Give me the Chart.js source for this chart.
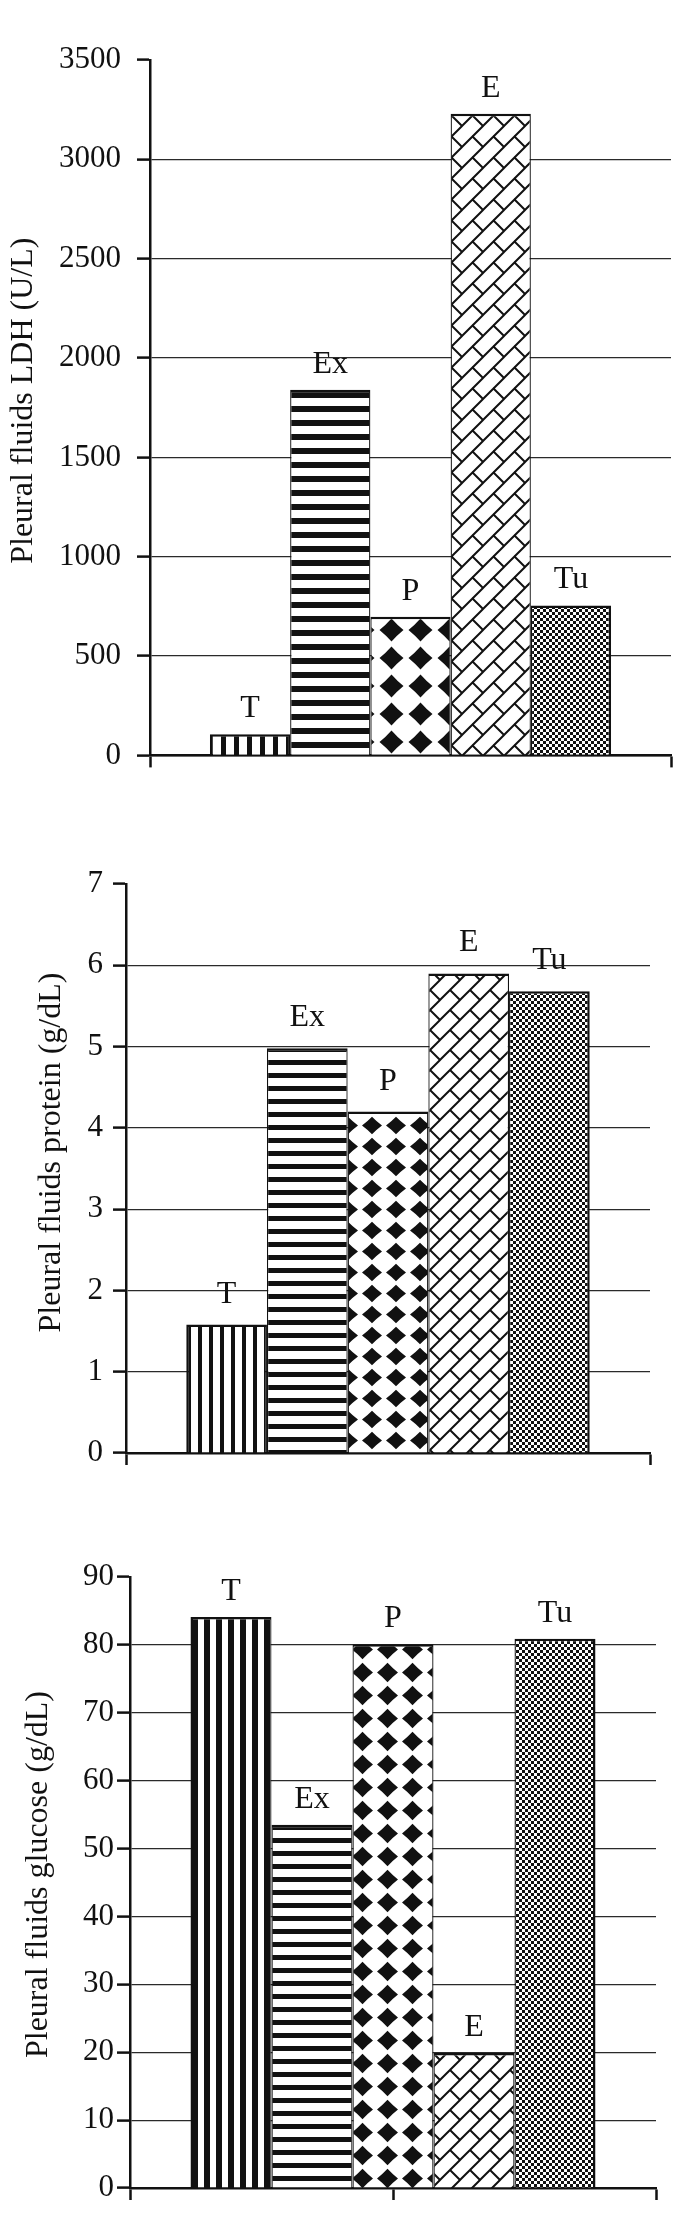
<!DOCTYPE html>
<html><head><meta charset="utf-8">
<script src="https://cdn.jsdelivr.net/npm/chart.js@4.4.1/dist/chart.umd.min.js"></script>
<style>
html,body{margin:0;padding:0;background:#fff;}
body{width:687px;height:2217px;position:relative;overflow:hidden;}
.box{position:absolute;left:0;width:687px;}
canvas{display:block;}
</style></head><body>
<div class="box" style="top:0;height:790px"><canvas id="c1" width="687" height="790"></canvas></div>
<div class="box" style="top:800px;height:690px"><canvas id="c2" width="687" height="690"></canvas></div>
<div class="box" style="top:1500px;height:717px"><canvas id="c3" width="687" height="717"></canvas></div>
<script>
// ---------- data ----------
const categories = ['T', 'Ex', 'P', 'E', 'Tu'];
const ldhValues = [107, 1840, 698, 3230, 755];
const proteinValues = [1.58, 4.98, 4.2, 5.9, 5.68];
const glucoseValues = [84.1, 53.5, 80.1, 19.9, 80.9];
const ldhTicks = [0, 500, 1000, 1500, 2000, 2500, 3000, 3500];
const proteinTicks = [0, 1, 2, 3, 4, 5, 6, 7];
const glucoseTicks = [0, 10, 20, 30, 40, 50, 60, 70, 80, 90];
const ldhTitle = 'Pleural fluids LDH (U/L)';
const proteinTitle = 'Pleural fluids protein (g/dL)';
const glucoseTitle = 'Pleural fluids glucose (g/dL)';

// ---------- styling ----------
const FONT = "'Liberation Serif', 'Times New Roman', Times, serif";
const INK = '#111';

function tile(w, h, draw) {
  const c = document.createElement('canvas');
  c.width = w; c.height = h;
  const g = c.getContext('2d');
  g.fillStyle = '#fff'; g.fillRect(0, 0, w, h);
  g.fillStyle = INK; g.strokeStyle = INK;
  draw(g, w, h);
  return g.createPattern(c, 'repeat');
}
const vStripes = (p, b) => tile(p, 4, (g, w, h) => g.fillRect(0, 0, b, h));
const hStripes = (p, b) => tile(4, p, (g, w, h) => g.fillRect(0, 0, w, b));
const diamonds = (sx, sy, r) => tile(sx, sy, (g, w, h) => {
  const cx = w / 2, cy = h / 2, k = 0.46, ry = r * sy / sx;
  g.beginPath();
  g.moveTo(cx, cy - ry);
  g.quadraticCurveTo(cx + r * k, cy - ry * k, cx + r, cy);
  g.quadraticCurveTo(cx + r * k, cy + ry * k, cx, cy + ry);
  g.quadraticCurveTo(cx - r * k, cy + ry * k, cx - r, cy);
  g.quadraticCurveTo(cx - r * k, cy - ry * k, cx, cy - ry);
  g.fill();
});
const brick = (s, lw) => tile(s, s, (g, w, h) => {
  g.lineWidth = lw; g.lineCap = 'square';
  g.beginPath();
  g.moveTo(-2, h + 2); g.lineTo(w + 2, -2);
  g.moveTo(-3, 3); g.lineTo(3, -3);
  g.moveTo(w - 3, h + 3); g.lineTo(w + 3, h - 3);
  g.moveTo(w / 2, h / 2); g.lineTo(w, h);
  g.stroke();
});
const checker = (c) => tile(2 * c, 2 * c, (g) => { g.fillRect(0, 0, c, c); g.fillRect(c, c, c, c); });

function barLabels(offset) {
  return {
    id: 'barLabels',
    afterDatasetsDraw(chart) {
      const ctx = chart.ctx;
      ctx.save();
      ctx.font = '32px ' + FONT;
      ctx.fillStyle = INK;
      ctx.textAlign = 'center';
      ctx.textBaseline = 'alphabetic';
      chart.data.datasets.forEach((ds, i) => {
        const el = chart.getDatasetMeta(i).data[0];
        if (el) ctx.fillText(ds.label, el.x, el.y - offset);
      });
      ctx.restore();
    }
  };
}

function yTitle(text, x, shift) {
  return {
    id: 'yTitle',
    afterDraw(chart) {
      const a = chart.chartArea, ctx = chart.ctx;
      ctx.save();
      ctx.translate(x, (a.top + a.bottom) / 2 + shift);
      ctx.rotate(-Math.PI / 2);
      ctx.font = '32px ' + FONT;
      ctx.fillStyle = INK;
      ctx.textAlign = 'center';
      ctx.textBaseline = 'middle';
      ctx.fillText(text, 0, 0);
      ctx.restore();
    }
  };
}

function makeChart(id, values, ticks, title, patterns, L) {
  const n = values.length;
  const maxV = ticks[ticks.length - 1];
  const datasets = categories.map((cat, i) => ({
    label: cat,
    data: [values[i]],
    xAxisID: 'x',
    yAxisID: 'y',
    backgroundColor: patterns[i],
    borderColor: INK,
    borderWidth: { top: 2.5, bottom: 0, left: i === 0 ? 2.5 : 1.3, right: i === n - 1 ? 2.5 : 1.3 },
    borderSkipped: 'start',
    categoryPercentage: 0.77,
    barPercentage: 1.0
  }));
  const xTickVals = L.xTicks;
  return new Chart(document.getElementById(id), {
    type: 'bar',
    data: { labels: [''], datasets },
    options: {
      responsive: false,
      animation: false,
      events: [],
      layout: { padding: { top: L.top, right: L.right, left: 0, bottom: 0 } },
      plugins: { legend: { display: false }, tooltip: { enabled: false } },
      scales: {
        x: { type: 'category', display: false },
        xa: {
          type: 'linear', position: 'bottom', offset: false,
          min: xTickVals[0], max: xTickVals[xTickVals.length - 1],
          afterBuildTicks: s => { s.ticks = xTickVals.map(v => ({ value: v })); },
          ticks: { display: false },
          grid: { offset: false, drawOnChartArea: false, drawTicks: true, tickLength: 12, tickColor: INK, tickWidth: 2.5 },
          border: { display: true, color: INK, width: 2.5 },
          afterFit: s => { s.height = L.xh; }
        },
        y: {
          type: 'linear', position: 'left',
          min: ticks[0], max: maxV,
          afterBuildTicks: s => { s.ticks = ticks.map(v => ({ value: v })); },
          ticks: { color: INK, padding: L.tickPad, font: { family: FONT, size: 31 }, callback: v => String(v) },
          grid: {
            color: c => (c.tick && c.tick.value === maxV) ? 'rgba(0,0,0,0)' : '#2a2a2a',
            lineWidth: 1.2, drawTicks: true, tickLength: 13, tickColor: INK, tickWidth: 2.5
          },
          border: { display: true, color: INK, width: 2.5 },
          title: { display: false },
          afterFit: s => { s.width = L.yw; }
        }
      }
    },
    plugins: [barLabels(L.labelOff), yTitle(title, L.titleX, L.titleShift)]
  });
}

makeChart('c1', ldhValues, ldhTicks, ldhTitle,
  [vStripes(13, 5), hStripes(14, 6), diamonds(29, 28, 12), brick(21, 2), checker(3)],
  { top: 60, right: 16, xh: 32, yw: 150, tickPad: 16, titleX: 24, titleShift: -7, labelOff: 17, xTicks: [0, 1] });
makeChart('c2', proteinValues, proteinTicks, proteinTitle,
  [vStripes(11, 4), hStripes(13, 5), diamonds(24, 21, 10), brick(20, 2), checker(3)],
  { top: 84, right: 37, xh: 37, yw: 126, tickPad: 10, titleX: 52, titleShift: -16, labelOff: 22, xTicks: [0, 1] });
makeChart('c3', glucoseValues, glucoseTicks, glucoseTitle,
  [vStripes(12, 6), hStripes(13, 5), diamonds(25, 23, 10.5), brick(20, 2), checker(3)],
  { top: 77, right: 31, xh: 29, yw: 130, tickPad: 3, titleX: 39, titleShift: -8, labelOff: 17, xTicks: [0, 1, 2] });
</script>
</body></html>
